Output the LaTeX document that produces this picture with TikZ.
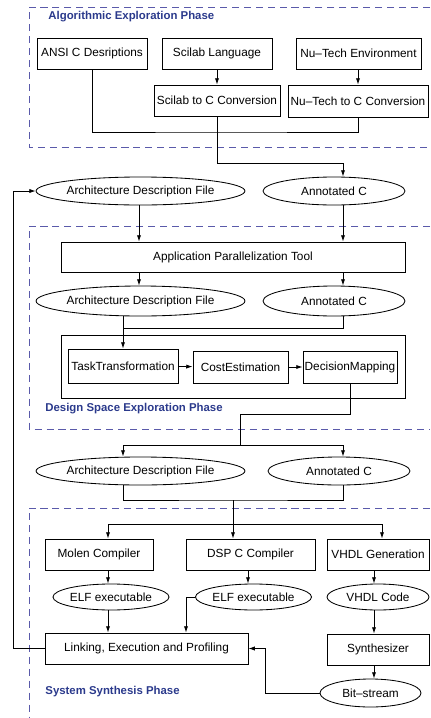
\documentclass[tikz,border=0pt]{standalone}
\usepackage{fontspec}
\setmainfont{Liberation Sans}
\usetikzlibrary{
    arrows.meta,
    shapes.geometric,
    calc,
    positioning
}
\definecolor{phaseline}{HTML}{5A5AAA}
\definecolor{phasetext}{HTML}{2B3A8C}
\tikzset{
    blk/.style={draw=black, rectangle, inner sep=0pt, minimum height=31*0.025cm, font=\fontsize{8.4}{9}\selectfont},
    ell/.style={draw=black, ellipse, inner sep=0pt, minimum height=28*0.025cm, font=\fontsize{8.4}{9}\selectfont},
    wd/.style={minimum width=#1*0.025cm},
    ht/.style={minimum height=#1*0.025cm},
    arr/.style={-{Latex[length=4.5pt,width=3pt]}},
    phase/.style={draw=phaseline, line width=0.6pt, dash pattern=on 5pt off 3.5pt},
    phaselbl/.style={anchor=west, inner sep=0pt, text=phasetext, font=\fontsize{8.1}{9}\selectfont\bfseries}
}

\begin{document}
\begin{tikzpicture}[x=0.025cm, y=-0.025cm, line width=0.6pt]
\useasboundingbox (0,0) rectangle (430,718);

\draw[phase] (430,7) -- (29,7) -- (29,147) -- (430,147);
\draw[phase] (430,226) -- (29,226) -- (29,429) -- (430,429);
\draw[phase] (430,508) -- (29,508) -- (29,718);
\node[phaselbl] (lblalg) at (48,17) {Algorithmic Exploration Phase};
\node[phaselbl] (lbldse) at (45,409) {Design Space Exploration Phase};
\node[phaselbl] (lblsys) at (45,692) {System Synthesis Phase};

\coordinate (cL) at (139,0);
\coordinate (cR) at (343,0);
\coordinate (xa) at (108,0);
\coordinate (xd) at (248,0);
\coordinate (xe) at (186,0);
\coordinate (xf) at (265,0);
\coordinate (xv) at (374,0);
\coordinate (fb) at (13,0);

\node[blk, wd=110] (ansi) at (92,53.5) {ANSI C Desriptions};
\node[blk, wd=110] (scilab) at (217,53.5) {Scilab Language};
\node[blk, wd=125] (nutech) at (358.5,53.5) {Nu--Tech Environment};
\node[blk, wd=126] (scic) at (217,100.5) {Scilab to C Conversion};
\node[blk, wd=140, ht=32] (nuc) at (358,101) {Nu--Tech to C Conversion};

\node[ell, wd=157] (arch1) at (140.5,191) {Architecture Description File};
\node[ell, wd=142] (ann1) at (334,191) {Annotated C};
\node[blk, wd=344, ht=30] (apt) at (233,257) {Application Parallelization Tool};
\node[ell, wd=157, ht=30] (arch2) at (140.5,301) {Architecture Description File};
\node[ell, wd=142, ht=30] (ann2) at (334,301) {Annotated C};

\node[blk, wd=344, ht=63] (dse) at (233,366.5) {};
\node[blk, wd=110, ht=34] (task) at (123,366) {TaskTransformation};
\node[blk, wd=95, ht=32] (cost) at (240.5,367) {CostEstimation};
\node[blk, wd=94, ht=32] (dec) at (350,367) {DecisionMapping};

\node[ell, wd=157] (arch3) at (140.5,471) {Architecture Description File};
\node[ell, wd=142] (ann3) at (339,471) {Annotated C};

\node[blk, wd=108] (molen) at (99,554.5) {Molen Compiler};
\node[blk, wd=129] (dspc) at (250.5,554.5) {DSP C Compiler};
\node[blk, wd=102] (vhdlg) at (378,554.5) {VHDL Generation};
\node[ell, wd=102, ht=26] (elf1) at (111,597) {ELF executable};
\node[ell, wd=103, ht=26] (elf2) at (253.5,597) {ELF executable};
\node[ell, wd=102, ht=26] (vhdlc) at (378,597) {VHDL Code};
\node[blk, wd=203] (link) at (146.5,648.5) {Linking, Execution and Profiling};
\node[blk, wd=102] (synth) at (378,649.5) {Synthesizer};
\node[ell, wd=101] (bits) at (370.5,693) {Bit--stream};

\coordinate (j1) at (217,132);
\coordinate (k1) at (343,163);
\coordinate (m1) at (123,328);
\coordinate (m2) at (240,414);
\coordinate (m3) at (240,445);
\coordinate (n1) at (233,500);
\coordinate (n2) at (233,524);

\draw[arr] (scilab) -- (scic);
\draw[arr] (nutech.south -| nuc) -- (nuc);
\draw (ansi.south) |- (j1) -| (nuc.south);
\draw[arr] (scic.south) |- (k1) -- (ann1.north -| k1);

\draw[arr] (arch1.south -| cL) -- (apt.north -| cL);
\draw[arr] (ann1.south -| cR) -- (apt.north -| cR);
\draw[arr] (apt.south -| cL) -- (arch2.north -| cL);
\draw[arr] (apt.south -| cR) -- (arch2.north -| cR);
\draw[arr] (arch2.south -| task) -- (task.north);
\draw (ann2.south -| cR) |- (m1);
\draw[arr] (task) -- (cost);
\draw[arr] (cost) -- (dec);
\draw (dec.south) |- (m2) -- (m3);
\draw[arr] (m3) -| (arch3.north -| task);
\draw[arr] (m3) -| (ann3.north -| cR);

\draw (arch3.south -| task) |- (n1) -| (ann3.south -| cR);
\draw[arr] (n1) -- (dspc.north -| n1);
\draw[arr] (n2) -| (molen.north -| xa);
\draw[arr] (n2) -| (vhdlg.north -| 382,0);

\draw[arr] (molen.south -| xa) -- (elf1.north -| xa);
\draw[arr] (dspc.south -| xd) -- (elf2.north -| xd);
\draw[arr] (vhdlg.south -| xv) -- (vhdlc.north -| xv);
\draw[arr] (elf1.south -| xa) -- (link.north -| xa);
\draw[arr] (elf2.west) -| (link.north -| xe);
\draw[arr] (vhdlc.south -| xv) -- (synth.north -| xv);
\draw[arr] (synth.south -| xv) -- (bits.north -| xv);
\draw[arr] (bits.west) -| (link.east -| xf) -- (link.east);
\draw[arr] (link.west) -- (link.west -| fb) |- (arch1.west);
\end{tikzpicture}
\end{document}
